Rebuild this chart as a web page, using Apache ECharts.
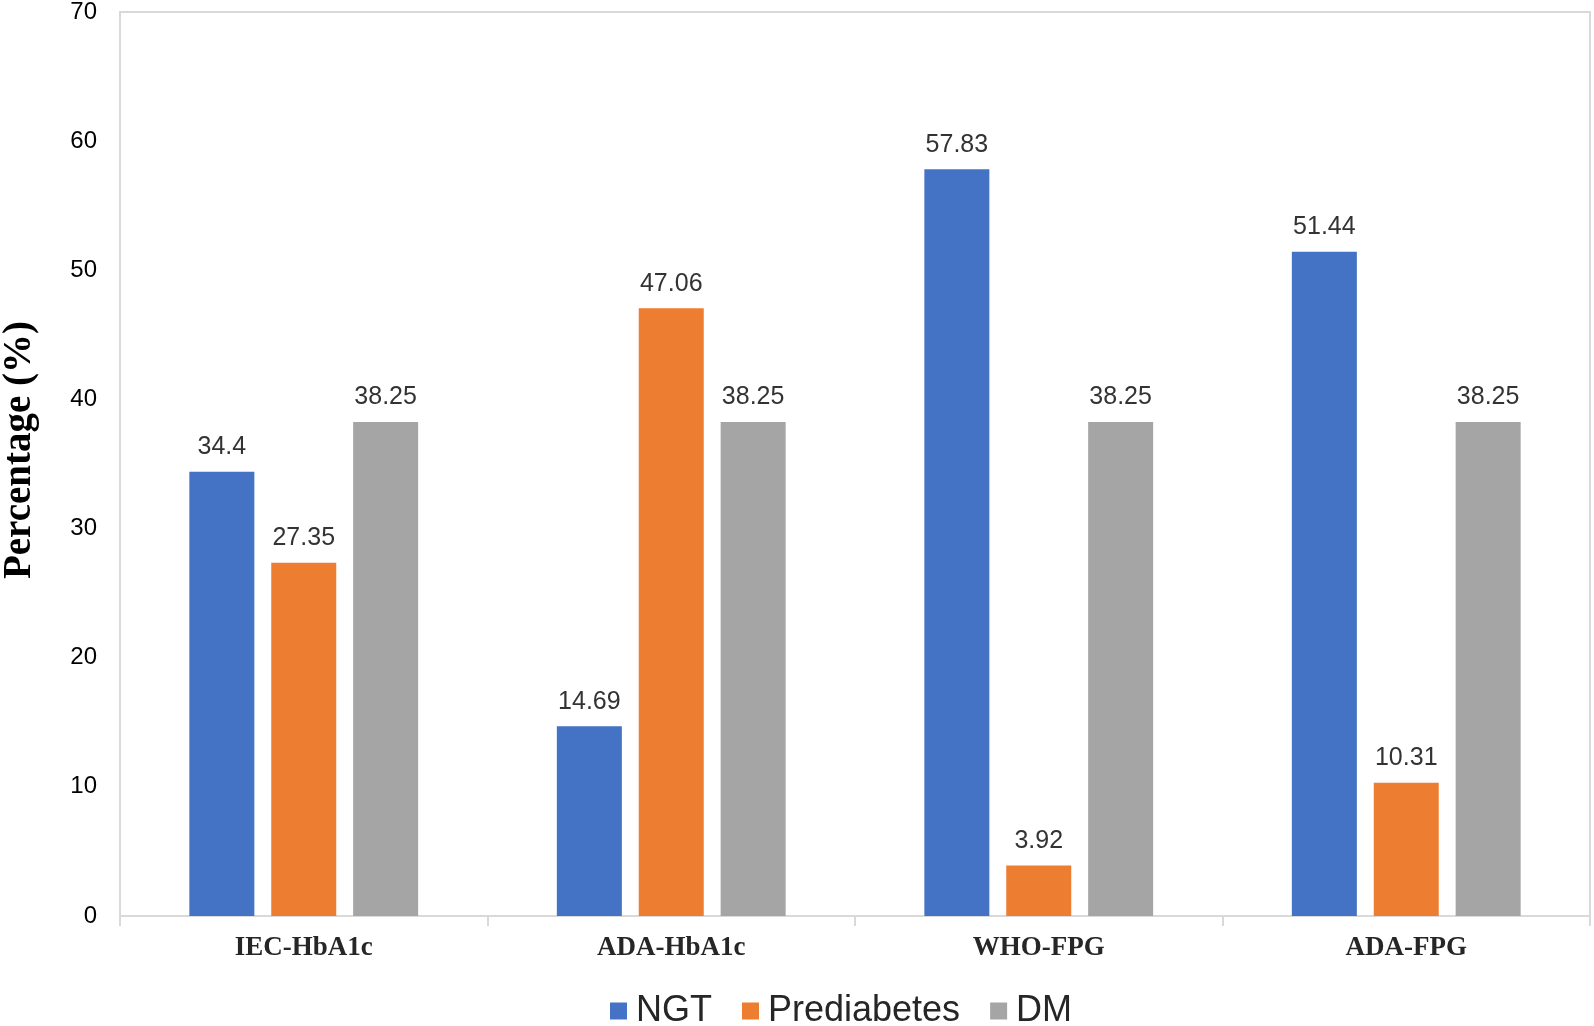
<!DOCTYPE html>
<html>
	<head>
		<meta charset="UTF-8">
		<title>Percentage by criteria</title>
		<style type="text/css">
			html,body{
				margin: 0;
				padding: 0;
				background: #fff;
			}
			#main{
				width: 1594px;
				height: 1026px;
			}
		</style>
	</head>
	<body>
		<div id="main"></div>
		<script src="https://cdn.jsdelivr.net/npm/echarts@6/dist/echarts.min.js" type="text/javascript"></script>
		<script type="text/javascript">
			// 数据
			var categories = ['IEC-HbA1c', 'ADA-HbA1c', 'WHO-FPG', 'ADA-FPG'];
			var seriesNames = ['NGT', 'Prediabetes', 'DM'];
			var ngt = [34.4, 14.69, 57.83, 51.44];
			var prediabetes = [27.35, 47.06, 3.92, 10.31];
			var dm = [38.25, 38.25, 38.25, 38.25];
			var colors = ['#4472C4', '#ED7D31', '#A5A5A5'];

			var lineColor = '#D9D9D9';
			var labelOption = {
				show: true,
				position: 'top',
				distance: 12,
				color: '#333',
				fontSize: 25,
				fontFamily: 'Liberation Sans, Arial, sans-serif'
			};

			var myChart = echarts.init(document.getElementById('main'));
			var option = {
				animation: false,
				color: colors,
				grid: {
					left: 120,
					top: 12,
					right: 4,
					bottom: 110,
					show: true,
					containLabel: false,
					outerBoundsMode: 'none',
					borderColor: lineColor,
					borderWidth: 2
				},
				legend: {
					data: seriesNames,
					left: 605,
					top: 988,
					itemWidth: 17,
					itemHeight: 17,
					itemGap: 30,
					icon: 'rect',
					textStyle: {
						fontSize: 36,
						color: '#262626',
						padding: [0, 0, 0, 4],
						fontFamily: 'Liberation Sans, Arial, sans-serif'
					}
				},
				xAxis: [
					{
						type: 'category',
						data: categories,
						axisLine: {lineStyle: {color: lineColor, width: 2}},
						axisTick: {show: true, length: 10, lineStyle: {color: lineColor, width: 2}},
						axisLabel: {
							margin: 19,
							color: '#262626',
							fontSize: 27,
							fontWeight: 'bold',
							fontFamily: 'Liberation Serif, Times New Roman, serif'
						}
					}
				],
				yAxis: [
					{
						type: 'value',
						min: 0,
						max: 70,
						interval: 10,
						name: 'Percentage (%)',
						nameLocation: 'middle',
						nameRotate: 90,
						nameGap: 81,
						nameTextStyle: {
							fontSize: 39,
							fontWeight: 'bold',
							color: '#000',
							fontFamily: 'Liberation Serif, Times New Roman, serif',
							padding: [0, 0, 0, 28]
						},
						axisLine: {show: true, lineStyle: {color: lineColor, width: 2}},
						axisTick: {show: false},
						splitLine: {show: false},
						axisLabel: {
							margin: 23,
							color: '#000',
							fontSize: 24,
							fontFamily: 'Liberation Sans, Arial, sans-serif'
						}
					}
				],
				series: [
					{
						name: seriesNames[0],
						type: 'bar',
						barWidth: 65,
						barGap: '26%',
						label: labelOption,
						data: ngt
					},
					{
						name: seriesNames[1],
						type: 'bar',
						barWidth: 65,
						barGap: '26%',
						label: labelOption,
						data: prediabetes
					},
					{
						name: seriesNames[2],
						type: 'bar',
						barWidth: 65,
						barGap: '26%',
						label: labelOption,
						data: dm
					}
				]
			};
			myChart.setOption(option);
		</script>
	</body>
</html>
